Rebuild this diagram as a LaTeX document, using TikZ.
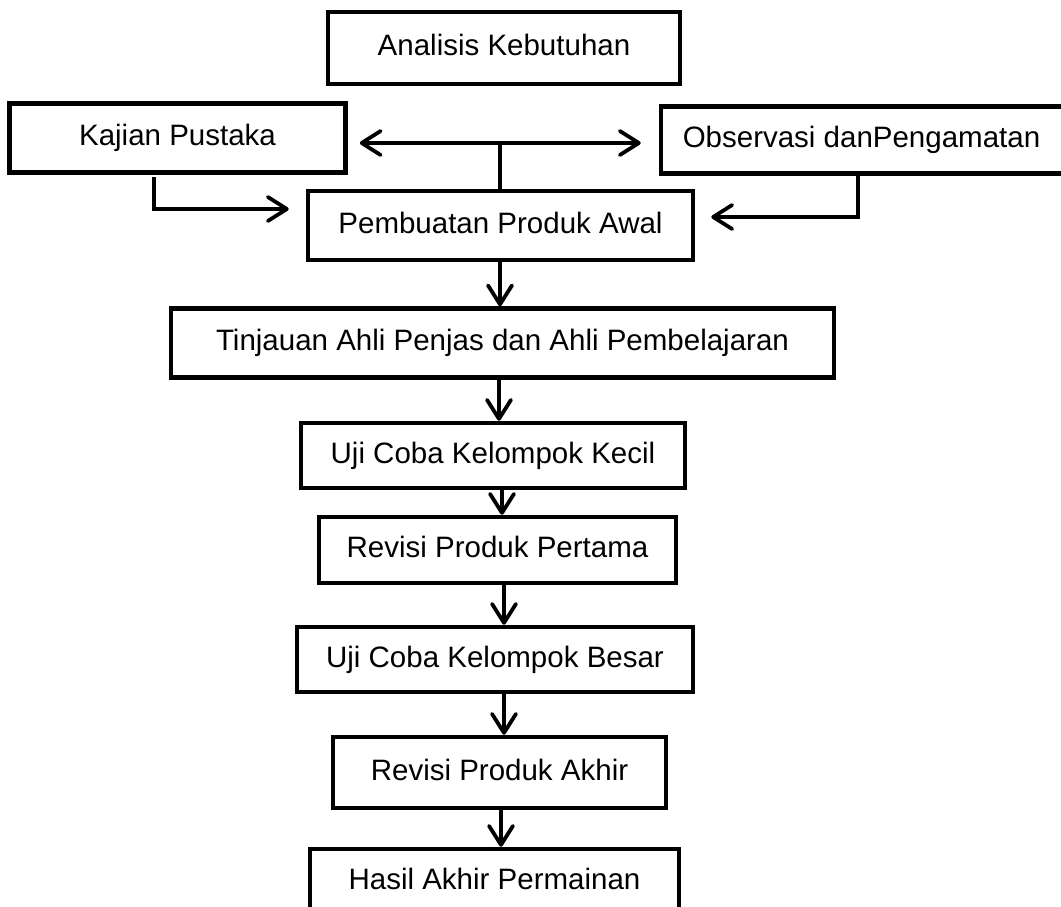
\documentclass[tikz,border=0pt]{standalone}
\usepackage{fontspec}
\setmainfont{Liberation Sans}
\usetikzlibrary{arrows.meta}
\begin{document}
\begin{tikzpicture}[x=1pt,y=-1pt,
  box/.style={draw,line width=4.5pt,rectangle,inner sep=0pt,
    text height=21pt,text depth=6pt,
    font=\fontsize{29.5}{34}\selectfont},
  conn/.style={line width=3.8pt,line join=miter},
  tipV/.tip={Straight Barb[length=19pt,width=24pt,line width=3.8pt,round]},
  arr/.style={conn,-tipV},
  darr/.style={conn,tipV-tipV}
]
\useasboundingbox (0,0) rectangle (1061,906);
\fill[white] (0,0) rectangle (1061,906);

\node[box,minimum width=352pt,minimum height=72pt] (ana) at (504,48) {Analisis Kebutuhan};
\node[box,minimum width=336pt,minimum height=69pt] (kaj) at (177.5,138) {Kajian Pustaka};
\node[box,minimum width=405pt,minimum height=67pt] (obs) at (863.5,140) {\hspace*{-4pt}Observasi danPengamatan};
\node[box,minimum width=385pt,minimum height=69pt] (pem) at (500.5,225.5) {Pembuatan Produk Awal};
\node[box,minimum width=663pt,minimum height=69pt] (tin) at (502.5,343) {Tinjauan Ahli Penjas dan Ahli Pembelajaran};
\node[box,minimum width=384pt,minimum height=65pt] (ujk) at (493,455.5) {Uji Coba Kelompok Kecil};
\node[box,minimum width=357pt,minimum height=66pt] (rvp) at (497.5,550) {Revisi Produk Pertama};
\node[box,minimum width=396pt,minimum height=65pt] (ujb) at (495,659.5) {Uji Coba Kelompok Besar};
\node[box,minimum width=333pt,minimum height=71pt] (rva) at (499.5,772.5) {Revisi Produk Akhir};
\node[box,minimum width=369pt,minimum height=66pt] (has) at (494.5,882) {Hasil Akhir Permainan};

% T junction
\coordinate (j) at (500,143);
\draw[conn] (pem.north -| j) -- (j);
\draw[darr] ([xshift=12pt]kaj.east |- j) -- ([xshift=-18pt]obs.west |- j);

% side elbows
\coordinate (k1) at (154,177);
\coordinate (o1) at (858,176);
\draw[arr] (k1) -- (154,209) -- ([xshift=-17pt]pem.west |- 0,209);
\draw[arr] (o1) -- (858,217) -- ([xshift=16pt]pem.east |- 0,217);

% main chain
\draw[arr] (pem.south -| 500,0) -- (tin.north -| 500,0);
\draw[arr] (tin.south -| 499,0) -- (ujk.north -| 499,0);
\draw[arr] (ujk.south -| 502,0) -- (rvp.north -| 502,0);
\draw[arr] (rvp.south -| 504,0) -- (ujb.north -| 504,0);
\draw[arr] (ujb.south -| 504,0) -- (rva.north -| 504,0);
\draw[arr] (rva.south -| 501,0) -- (has.north -| 501,0);
\end{tikzpicture}
\end{document}
